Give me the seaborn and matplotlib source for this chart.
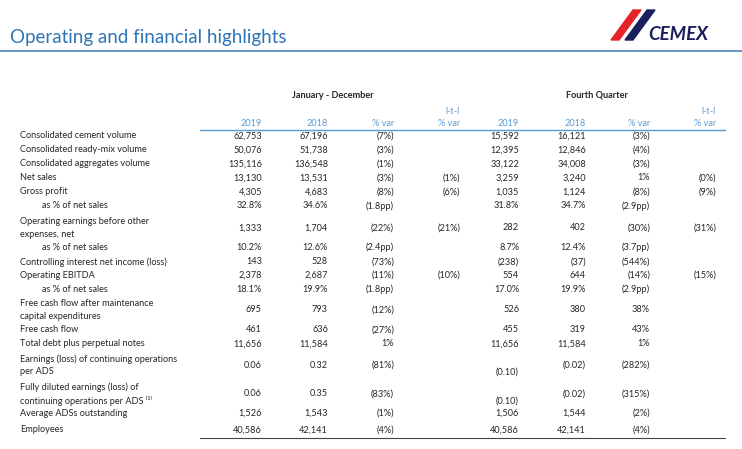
import matplotlib.pyplot as plt
import seaborn as sns
from matplotlib.patches import Polygon

sns.set_theme(style="white")
plt.rcParams['font.family'] = ['Lato', 'DejaVu Sans']

# table data
labels = [
    "Consolidated cement volume", "Consolidated ready-mix volume",
    "Consolidated aggregates volume", "Net sales", "Gross profit",
    "as % of net sales", "Operating earnings before other\nexpenses, net",
    "as % of net sales", "Controlling interest net income (loss)",
    "Operating EBITDA", "as % of net sales",
    "Free cash flow after maintenance\ncapital expenditures", "Free cash flow",
    "Total debt plus perpetual notes",
    "Earnings (loss) of continuing operations\nper ADS",
    "Fully diluted earnings (loss) of\ncontinuing operations per ADS \u207d\u00b9\u207e",
    "Average ADSs outstanding", "Employees",
]
indent = [0, 0, 0, 0, 0, 1, 0, 1, 0, 0, 1, 0, 0, 0, 0, 0, 0, 0]
fy_2019 = ["62,753", "50,076", "135,116", "13,130", "4,305", "32.8%", "1,333", "10.2%", "143",
           "2,378", "18.1%", "695", "461", "11,656", "0.06", "0.06", "1,526", "40,586"]
fy_2018 = ["67,196", "51,738", "136,548", "13,531", "4,683", "34.6%", "1,704", "12.6%", "528",
           "2,687", "19.9%", "793", "636", "11,584", "0.32", "0.35", "1,543", "42,141"]
fy_var = ["(7%)", "(3%)", "(1%)", "(3%)", "(8%)", "(1.8pp)", "(22%)", "(2.4pp)", "(73%)",
          "(11%)", "(1.8pp)", "(12%)", "(27%)", "1%", "(81%)", "(83%)", "(1%)", "(4%)"]
fy_ltl = ["", "", "", "(1%)", "(6%)", "", "(21%)", "", "", "(10%)", "", "", "", "", "", "", "", ""]
q4_2019 = ["15,592", "12,395", "33,122", "3,259", "1,035", "31.8%", "282", "8.7%", "(238)",
           "554", "17.0%", "526", "455", "11,656", "(0.10)", "(0.10)", "1,506", "40,586"]
q4_2018 = ["16,121", "12,846", "34,008", "3,240", "1,124", "34.7%", "402", "12.4%", "(37)",
           "644", "19.9%", "380", "319", "11,584", "(0.02)", "(0.02)", "1,544", "42,141"]
q4_var = ["(3%)", "(4%)", "(3%)", "1%", "(8%)", "(2.9pp)", "(30%)", "(3.7pp)", "(544%)",
          "(14%)", "(2.9pp)", "38%", "43%", "1%", "(282%)", "(315%)", "(2%)", "(4%)"]
q4_ltl = ["", "", "", "(0%)", "(9%)", "", "(31%)", "", "", "(15%)", "", "", "", "", "", "", "", ""]
row_y = [136, 150, 164, 178, 192, 206, 228, 247, 262, 275, 289, 310, 330, 344, 365, 394, 413, 430]

columns = [fy_2019, fy_2018, fy_var, fy_ltl, q4_2019, q4_2018, q4_var, q4_ltl]
col_x = [262, 328, 394, 460, 519, 586, 650, 716]
col_head = ["2019", "2018", "% var", "% var", "2019", "2018", "% var", "% var"]

blue = "#5b9bd5"
fig = plt.figure(figsize=(7.42, 4.49), dpi=100)
ax = fig.add_axes([0, 0, 1, 1])
ax.set_xlim(0, 742)
ax.set_ylim(449, 0)
ax.axis("off")

ax.text(10, 38, "Operating and financial highlights", fontsize=13.5, color="#2e75b6", va="center")
ax.plot([0, 742], [51, 51], color="#4f81bd", lw=1.2)

# logo
ax.add_patch(Polygon([[611, 40], [619, 40], [641, 10], [633, 10]], color="#e52227"))
ax.add_patch(Polygon([[625, 40], [633, 40], [655, 10], [647, 10]], color="#1b1f5e"))
ax.text(648, 34, "CEMEX", fontsize=13.5, fontweight="bold", fontstyle="italic",
        color="#1b1f5e", va="center", ha="left")

fs = 6.6
ax.text(333, 95, "January - December", fontsize=fs, fontweight="bold", ha="center", va="center")
ax.text(597, 95, "Fourth Quarter", fontsize=fs, fontweight="bold", ha="center", va="center")
for x, h in zip(col_x, col_head):
    ax.text(x, 123, h, fontsize=fs, color=blue, ha="right", va="center")
for x in (col_x[3], col_x[7]):
    ax.text(x - 8, 111, "l-t-l", fontsize=fs, color=blue, ha="center", va="center")
ax.plot([200, 725], [129.5, 129.5], color=blue, lw=1)
ax.plot([200, 725], [438, 438], color="#444444", lw=0.8)

for i, lab in enumerate(labels):
    y = row_y[i]
    ax.text(20 + 22 * indent[i], y, lab, fontsize=fs, ha="left", va="center", linespacing=1.45)
    for x, col in zip(col_x, columns):
        v = col[i]
        dy = 7 if (v == "(0.10)" and col is q4_2019) else 0
        ax.text(x, y + dy, v, fontsize=fs, ha="right", va="center")

fig.savefig("out.png", dpi=100)
